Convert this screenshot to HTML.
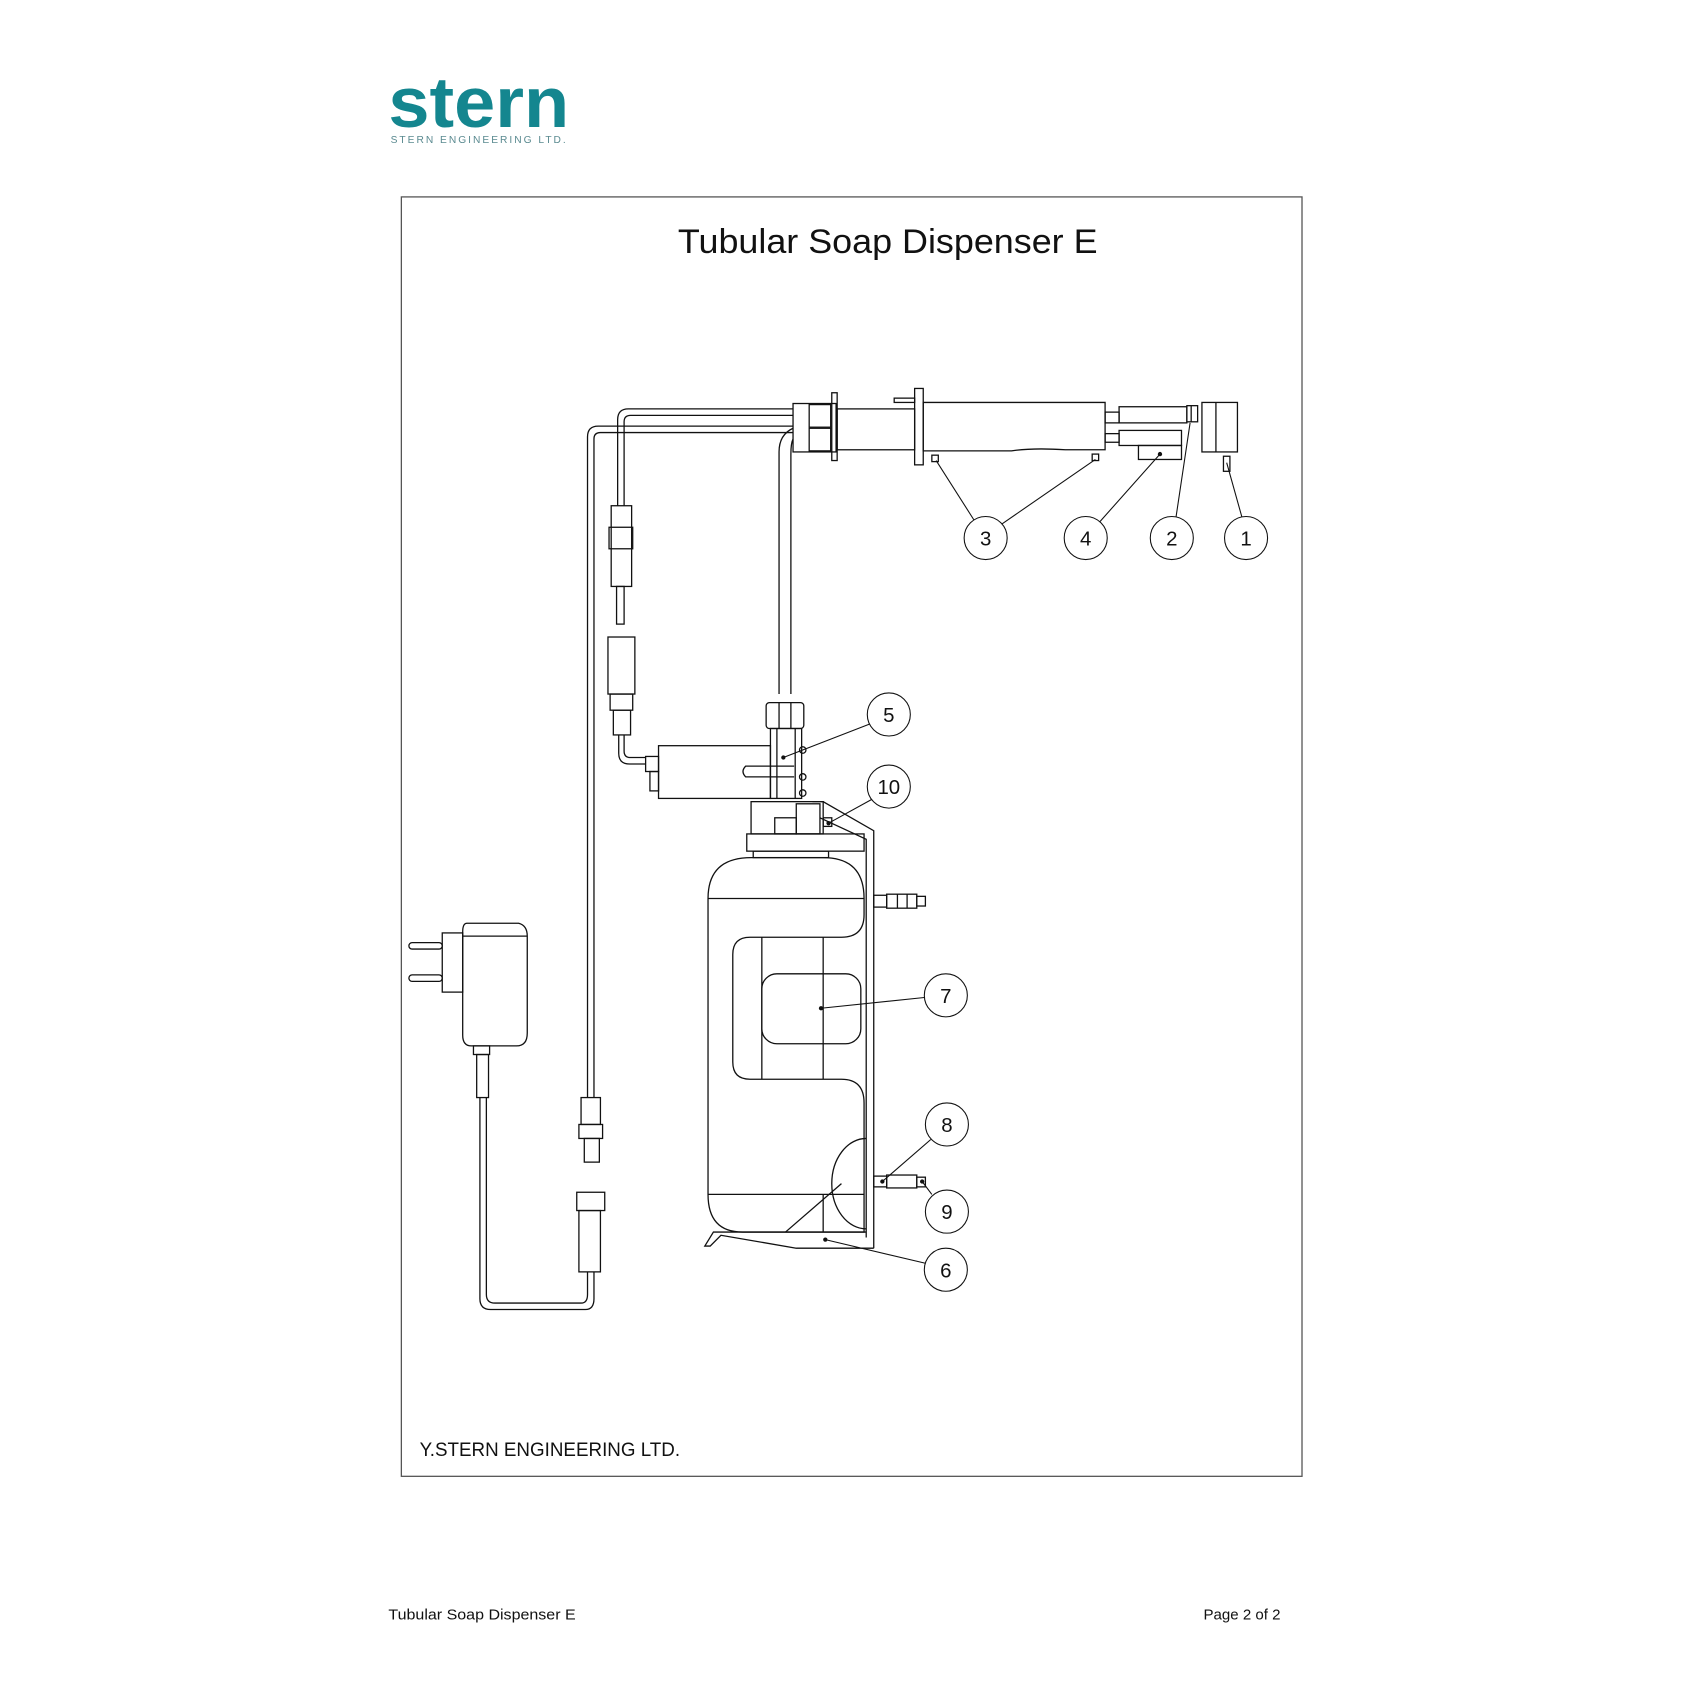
<!DOCTYPE html>
<html><head><meta charset="utf-8"><style>
html,body{margin:0;padding:0;background:#fff}
svg{display:block}
</style></head><body>
<svg width="1684" height="1684" viewBox="0 0 1565 1565" xmlns="http://www.w3.org/2000/svg" font-family="Liberation Sans, sans-serif">
<rect width="1565" height="1565" fill="#fff"/>
<!-- logo -->
<text x="361" y="118" font-size="66" font-weight="bold" fill="#14868f" textLength="168" lengthAdjust="spacingAndGlyphs">stern</text>
<text x="363" y="133" font-size="9.5" fill="#5a8a90" letter-spacing="3.2" textLength="166" lengthAdjust="spacing">STERN ENGINEERING LTD.</text>
<!-- frame -->
<rect x="373" y="183" width="837" height="1189" fill="none" stroke="#555" stroke-width="1.2"/>
<text x="630" y="235" font-size="32" fill="#111" textLength="390" lengthAdjust="spacingAndGlyphs">Tubular Soap Dispenser E</text>
<text x="390" y="1353" font-size="18" fill="#111" textLength="242" lengthAdjust="spacingAndGlyphs">Y.STERN ENGINEERING LTD.</text>
<text x="361" y="1505" font-size="14" fill="#111" textLength="174" lengthAdjust="spacingAndGlyphs">Tubular Soap Dispenser E</text>
<text x="1190" y="1505" font-size="14" fill="#111" text-anchor="end">Page 2 of 2</text>

<g fill="none" stroke="#111" stroke-width="1.2">
<!-- pipes -->
<path d="M737,380 H584 Q574,380 574,390 V470"/>
<path d="M737,386 H586 Q580,386 580,392 V470"/>
<path d="M737,396 H556 Q546,396 546,406 V1020"/>
<path d="M737,402 H558 Q552,402 552,408 V1020"/>
<path d="M737,398 Q724,404 724,420 V645"/>
<path d="M737,408 Q735,412 735,422 V645"/>
<!-- top assembly -->
<rect x="737" y="375" width="40" height="45"/>
<rect x="752" y="376" width="20" height="21"/><rect x="752" y="398" width="20" height="21"/>
<rect x="773" y="365" width="5" height="63"/>
<rect x="778" y="380" width="72" height="38"/>
<rect x="831" y="370" width="19" height="4"/>
<rect x="850" y="361" width="8" height="71"/>
<path d="M858,374 H1027 V418 H990 Q960,416 940,419 H858 Z"/>
<rect x="1027" y="383" width="13" height="10"/><rect x="1040" y="378" width="63" height="15"/>
<rect x="1103" y="377" width="10" height="15"/><line x1="1107" y1="377" x2="1107" y2="392"/>
<rect x="1027" y="403" width="13" height="8"/><rect x="1040" y="400" width="58" height="14"/>
<rect x="1058" y="414" width="40" height="13"/>
<rect x="1117" y="374" width="33" height="46"/><line x1="1130" y1="374" x2="1130" y2="420"/>
<rect x="1137" y="424" width="6" height="14"/>
<rect x="866" y="423" width="6" height="6"/><rect x="1015" y="422" width="6" height="6"/>
<!-- connectors upper -->
<rect x="568" y="470" width="19" height="75"/><rect x="566" y="490" width="22" height="20"/>
<rect x="573" y="545" width="7" height="35"/>
<rect x="565" y="592" width="25" height="53"/><rect x="567" y="645" width="21" height="15"/>
<rect x="570" y="660" width="16" height="23"/>
<path d="M575,683 V700 Q575,710 585,710 H600"/><path d="M580,683 V698 Q580,704 586,704 H600"/>
<!-- valve -->
<rect x="612" y="693" width="104" height="49"/>
<rect x="600" y="703" width="12" height="14"/><rect x="604" y="717" width="8" height="18"/>
<rect x="712" y="653" width="35" height="24" rx="3"/>
<line x1="724" y1="653" x2="724" y2="677"/><line x1="735" y1="653" x2="735" y2="677"/>
<rect x="716" y="677" width="29" height="65"/>
<line x1="722" y1="677" x2="722" y2="742"/><line x1="739" y1="677" x2="739" y2="742"/>
<path d="M738,712 H693 Q688,717 693,722 H738"/>
<circle cx="746" cy="697" r="3"/><circle cx="746" cy="722" r="3"/><circle cx="746" cy="737" r="3"/>
<rect x="698" y="745" width="67" height="30"/>
<rect x="740" y="747" width="22" height="28"/>
<rect x="720" y="760" width="20" height="15"/>
<!-- bracket -->
<path d="M755,745 L765,745 L812,772 V1160"/>
<path d="M762,760 L805,780 V1150"/>
<rect x="765" y="760" width="8" height="8"/>
<!-- bottle -->
<rect x="694" y="775" width="109" height="16"/>
<rect x="700" y="791" width="70" height="6"/>
<path d="M698,797 H765 Q803,797 803,835 V850 Q803,871 782,871 H697 Q681,871 681,887 V987 Q681,1003 697,1003 H782 Q803,1003 803,1025 V1145 H690 Q658,1145 658,1110 V835 Q658,797 698,797 Z"/>
<line x1="658" y1="835" x2="803" y2="835"/>
<line x1="658" y1="1110" x2="803" y2="1110"/>
<line x1="708" y1="871" x2="708" y2="1003"/><line x1="765" y1="871" x2="765" y2="1003"/>
<rect x="708" y="905" width="92" height="65" rx="14"/>
<path d="M805,1058 A32,42 0 0,0 805,1142"/>
<line x1="730" y1="1145" x2="782" y2="1100"/>
<line x1="765" y1="1110" x2="765" y2="1145"/>
<!-- tray -->
<path d="M805,1145 H663 L655,1158 L660,1158 L670,1148 L740,1160 H812"/>
<!-- fittings -->
<rect x="812" y="832" width="12" height="11"/><rect x="824" y="831" width="28" height="13"/><rect x="852" y="833" width="8" height="9"/>
<line x1="834" y1="831" x2="834" y2="844"/><line x1="843" y1="831" x2="843" y2="844"/>
<rect x="812" y="1093" width="12" height="10"/><rect x="824" y="1092" width="28" height="12"/><rect x="852" y="1094" width="8" height="9"/>
<!-- adapter -->
<path d="M434,858 H482 Q490,860 490,870 V960 Q490,972 480,972 H438 Q430,972 430,962 V866 Q430,858 434,858 Z"/>
<line x1="430" y1="870" x2="490" y2="870"/>
<rect x="411" y="867" width="19" height="55"/>
<rect x="380" y="876" width="31" height="6" rx="3"/><rect x="380" y="906" width="31" height="6" rx="3"/>
<rect x="440" y="972" width="15" height="8"/>
<rect x="443" y="980" width="11" height="40"/>
<path d="M446,1020 V1207 Q446,1217 456,1217 H544 Q552,1217 552,1207 V1182"/>
<path d="M452,1020 V1203 Q452,1211 460,1211 H540 Q546,1211 546,1203 V1182"/>
<!-- cable connectors -->
<rect x="540" y="1020" width="18" height="25"/><rect x="538" y="1045" width="22" height="13"/>
<rect x="543" y="1058" width="14" height="22"/>
<rect x="536" y="1108" width="26" height="17"/><rect x="538" y="1125" width="20" height="57"/>
<!-- balloons -->
<g stroke-width="1">
<circle cx="916" cy="500" r="20"/><circle cx="1009" cy="500" r="20"/><circle cx="1089" cy="500" r="20"/><circle cx="1158" cy="500" r="20"/>
<circle cx="826" cy="664" r="20"/><circle cx="826" cy="731" r="20"/><circle cx="879" cy="925" r="20"/>
<circle cx="880" cy="1045" r="20"/><circle cx="880" cy="1126" r="20"/><circle cx="879" cy="1180" r="20"/>
<path d="M870,428 L905,483 M1018,427 L931,487 M1078,422 L1022,485 M1106,393 L1093,480 M1140,430 L1154,480"/>
<path d="M728,704 L808,673 M770,765 L810,743 M763,937 L859,927 M820,1098 L865,1059 M857,1098 L866,1110 M767,1152 L860,1174"/>
</g>
</g>
<g fill="#111">
<circle cx="728" cy="704" r="2"/><circle cx="770" cy="765" r="2"/><circle cx="763" cy="937" r="2"/><circle cx="820" cy="1098" r="2"/><circle cx="857" cy="1098" r="2"/><circle cx="767" cy="1152" r="2"/><circle cx="1078" cy="422" r="2"/>
</g>
<g font-size="19" text-anchor="middle" fill="#111">
<text x="916" y="507">3</text><text x="1009" y="507">4</text><text x="1089" y="507">2</text><text x="1158" y="507">1</text>
<text x="826" y="671">5</text><text x="826" y="738">10</text><text x="879" y="932">7</text>
<text x="880" y="1052">8</text><text x="880" y="1133">9</text><text x="879" y="1187">6</text>
</g>
</svg>
</body></html>
